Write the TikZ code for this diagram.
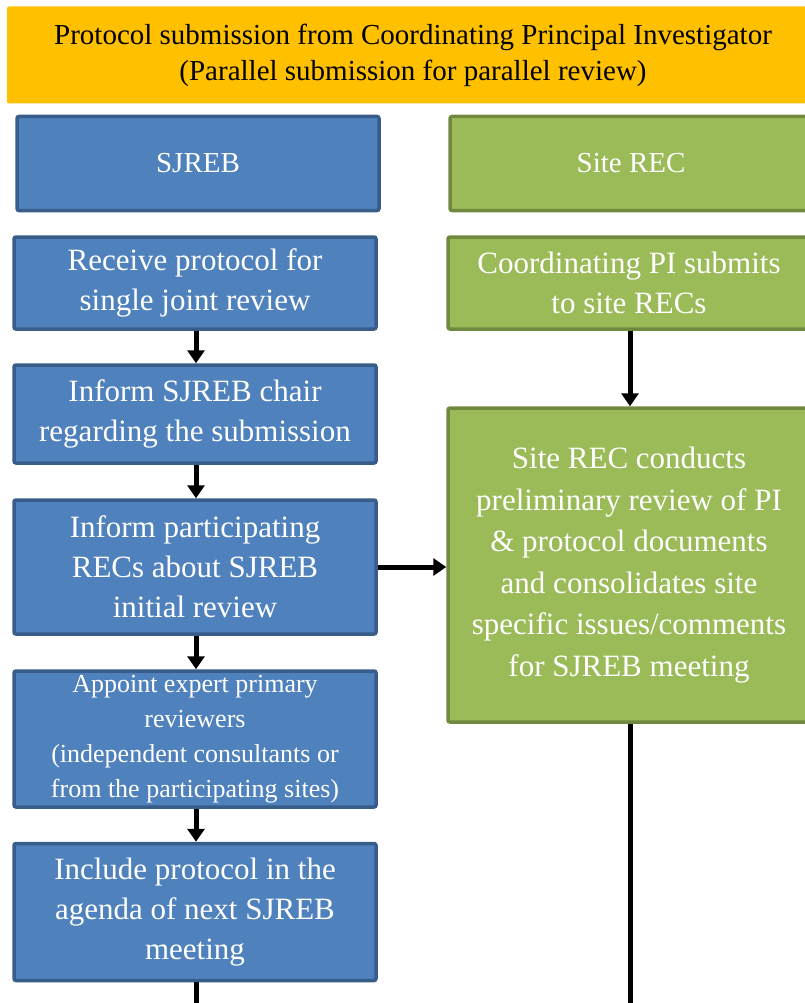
\documentclass[tikz,border=0pt]{standalone}
\usepackage{fontspec}
\setmainfont{Liberation Serif}
\usetikzlibrary{arrows.meta}
\definecolor{orangefill}{HTML}{FFC000}
\definecolor{bluefill}{HTML}{4F81BD}
\definecolor{blueline}{HTML}{385D8A}
\definecolor{greenfill}{HTML}{9BBB59}
\definecolor{greenline}{HTML}{71893F}
\tikzset{
  box/.style={rectangle, rounded corners=2pt, line width=3.5pt, align=center, inner sep=0pt,
    minimum width=362pt, text=white, font=\fontsize{31}{40}\selectfont},
  bluebox/.style={box, fill=bluefill, draw=blueline},
  greenbox/.style={box, fill=greenfill, draw=greenline},
  arr/.style={line width=5pt, -{Triangle[width=17pt,length=13pt]}},
  plain/.style={line width=5pt}
}
\begin{document}
\begin{tikzpicture}[x=1pt,y=-1pt]
\useasboundingbox (0,0) rectangle (805,1003);
\clip (0,0) rectangle (805,1003);
\node[rectangle, rounded corners=2pt, fill=orangefill, minimum width=812pt, minimum height=97pt,
  align=center, inner sep=0pt, font=\fontsize{29}{36}\selectfont] (title) at (413,55)
  {Protocol submission from Coordinating Principal Investigator\\(Parallel submission for parallel review)};
\node[bluebox, minimum height=94pt, font=\fontsize{29}{36}\selectfont] (sjreb) at (198,163.5) {SJREB};
\node[greenbox, minimum height=94pt, font=\fontsize{29}{36}\selectfont] (site) at (631,163.5) {Site REC};
\node[bluebox, minimum height=92pt] (receive) at (195,283) {Receive protocol for\\single joint review};
\node[greenbox, minimum height=92pt] (coord) at (629,283) {Coordinating PI submits\\to site RECs};
\node[bluebox, minimum height=98pt] (chair) at (195,414) {Inform SJREB chair\\regarding the submission};
\node[bluebox, minimum height=134pt] (partic) at (195,567) {Inform participating\\RECs about SJREB\\initial review};
\node[bluebox, minimum height=136pt, font=\fontsize{26}{35}\selectfont] (appoint) at (195,739)
  {Appoint expert primary\\reviewers\\(independent consultants or\\from the participating sites)};
\node[bluebox, minimum height=137pt] (include) at (195,912) {Include protocol in the\\agenda of next SJREB\\meeting};
\node[greenbox, minimum height=314pt, font=\fontsize{31}{41.5}\selectfont] (conduct) at (629,565)
  {Site REC conducts\\preliminary review of PI\\\& protocol documents\\and consolidates site\\specific issues/comments\\for SJREB meeting};
\coordinate (leftend) at (196,1010);
\coordinate (rightend) at (630,1010);
\draw[arr] (receive.south -| 196,0) -- (chair.north -| 196,0);
\draw[arr] (chair.south -| 196,0) -- (partic.north -| 196,0);
\draw[arr] (partic.south -| 196,0) -- (appoint.north -| 196,0);
\draw[arr] (appoint.south -| 196,0) -- (include.north -| 196,0);
\draw[plain] (include.south -| leftend) -- (leftend);
\draw[arr] (coord.south -| rightend) -- (conduct.north -| rightend);
\draw[plain] (conduct.south -| rightend) -- (rightend);
\draw[arr] (partic.east) -- (conduct.west |- partic.east);
\end{tikzpicture}
\end{document}
